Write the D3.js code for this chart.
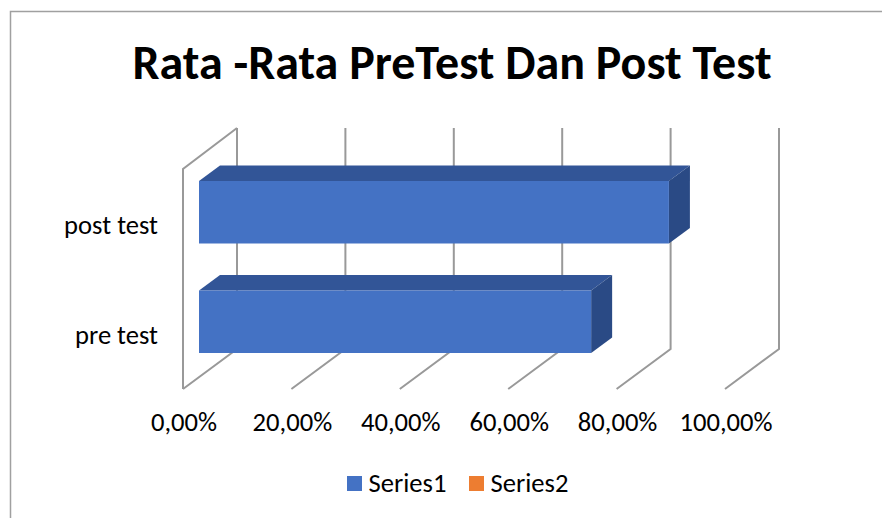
<!DOCTYPE html>
<html>
<head>
<meta charset="utf-8">
<script src="https://cdn.jsdelivr.net/npm/d3@7/dist/d3.min.js"></script>
<style>
html, body { margin: 0; padding: 0; background: #fff; overflow: hidden; }
text { font-family: Carlito, "Open Sans", "Noto Sans", sans-serif; fill: #000; }
</style>
</head>
<body>
<div id="canvas"></div>
<script>
"use strict"

/* chart values */
let categories = ["pre test", "post test"];
let series1 = [0.7235, 0.867];
let ticks = [0, 0.2, 0.4, 0.6, 0.8, 1];
let tickLabels = ["0,00%", "20,00%", "40,00%", "60,00%", "80,00%", "100,00%"];
let legendNames = ["Series1", "Series2"];
let legendColors = ["#4472c4", "#ed7d31"];

let svgWidth = 882;
let svgHeight = 518;

let svg = d3.select("#canvas")
    .append("svg")
    .attr("width", svgWidth)
    .attr("height", svgHeight);

/* outer chart border, open on the right and bottom */
svg.append("path")
    .attr("d", "M10.5,518V11.5H882")
    .attr("fill", "none")
    .attr("stroke", "#a0a0a0")
    .attr("stroke-width", 1.5);

svg.append("text")
    .attr("x", 452)
    .attr("y", 79)
    .attr("text-anchor", "middle")
    .style("font-size", "48px")
    .style("font-weight", "bold")
    .text("Rata -Rata PreTest Dan Post Test");

/* scales: front plane of the 3d plot, depth is a fixed offset */
let xScale = d3.scaleLinear().domain([0, 1]).range([183, 725]);
let yScale = d3.scaleBand().domain(["post test", "pre test"]).range([169, 388]);
let depthX = 54;
let depthY = -40;
let barOffset = 16;
let barHeight = 62.5;

/* grid: floor diagonal plus back wall line for each tick */
let grid = svg.append("g")
    .attr("fill", "none")
    .attr("stroke", "#999999")
    .attr("stroke-width", 2);

grid.selectAll("path")
    .data(ticks)
    .join("path")
    .attr("d", d => {
        let x = xScale(d);
        return "M" + x + ",389L" + (x + depthX) + "," + (389 + depthY) + "V128";
    });

/* left wall */
grid.append("path")
    .attr("d", "M183,389V169L" + (183 + depthX) + ",128");

/* bars */
let bars = svg.selectAll("g.bar")
    .data(categories)
    .join("g")
    .attr("class", "bar");

let barX0 = xScale(0) + barOffset;
let barX = d => xScale(series1[categories.indexOf(d)]) + barOffset;
let barY = d => yScale(d) + 12;
let barDx = 21;
let barDy = -15.5;

bars.append("path")
    .attr("fill", "#325597")
    .attr("d", d => "M" + barX0 + "," + barY(d)
        + "L" + (barX0 + barDx) + "," + (barY(d) + barDy)
        + "H" + (barX(d) + barDx)
        + "L" + barX(d) + "," + barY(d) + "Z");

bars.append("path")
    .attr("fill", "#2a4a85")
    .attr("d", d => "M" + barX(d) + "," + barY(d)
        + "L" + (barX(d) + barDx) + "," + (barY(d) + barDy)
        + "V" + (barY(d) + barDy + barHeight)
        + "L" + barX(d) + "," + (barY(d) + barHeight) + "Z");

bars.append("rect")
    .attr("fill", "#4472c4")
    .attr("x", barX0)
    .attr("y", d => barY(d))
    .attr("width", d => barX(d) - barX0)
    .attr("height", barHeight);

/* category labels */
svg.selectAll("text.cat")
    .data(categories)
    .join("text")
    .attr("class", "cat")
    .attr("x", 158)
    .attr("y", d => barY(d) + 53)
    .attr("text-anchor", "end")
    .style("font-size", "26.6px")
    .text(d => d);

/* value axis labels */
svg.selectAll("text.tick")
    .data(ticks)
    .join("text")
    .attr("class", "tick")
    .attr("x", d => xScale(d) + 1)
    .attr("y", 431)
    .attr("text-anchor", "middle")
    .style("font-size", "26.6px")
    .text((d, i) => tickLabels[i]);

/* legend */
let legendX = [347, 469];
let legend = svg.selectAll("g.legend")
    .data(legendNames)
    .join("g")
    .attr("class", "legend")
    .attr("transform", (d, i) => "translate(" + legendX[i] + ",476)");

legend.append("rect")
    .attr("width", 15)
    .attr("height", 15)
    .attr("fill", (d, i) => legendColors[i]);

legend.append("text")
    .attr("x", 21.5)
    .attr("y", 16)
    .style("font-size", "26.6px")
    .text(d => d);
</script>
</body>
</html>
